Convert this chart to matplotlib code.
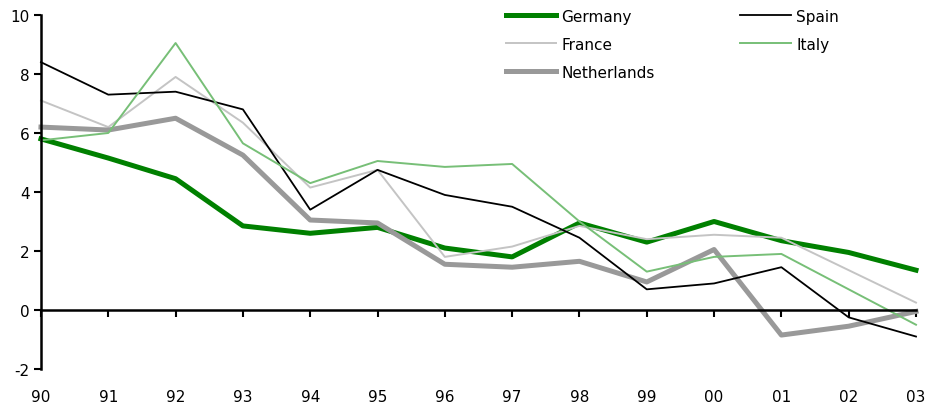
import numpy as np
import matplotlib
matplotlib.use("Agg")
import matplotlib.pyplot as plt

years = ['90', '91', '92', '93', '94', '95', '96', '97', '98', '99', '00', '01', '02', '03']
germany = [5.8, 5.15, 4.45, 2.85, 2.6, 2.8, 2.1, 1.8, 2.95, 2.3, 3.0, 2.35, 1.95, 1.35]
spain = [8.4, 7.3, 7.4, 6.8, 3.4, 4.75, 3.9, 3.5, 2.45, 0.7, 0.9, 1.45, -0.25, -0.9]
france = [7.1, 6.2, 7.9, 6.35, 4.15, 4.75, 1.8, 2.15, 2.85, 2.4, 2.55, 2.45, 1.35, 0.25]
italy = [5.75, 6.0, 9.05, 5.65, 4.3, 5.05, 4.85, 4.95, 3.0, 1.3, 1.8, 1.9, 0.7, -0.5]
netherlands = [6.2, 6.1, 6.5, 5.25, 3.05, 2.95, 1.55, 1.45, 1.65, 0.95, 2.05, -0.85, -0.55, -0.05]

plt.rcParams['font.family'] = ['DejaVu Sans']
plt.rcParams['font.size'] = 11
plt.rcParams['axes.unicode_minus'] = False

fig = plt.figure(figsize=(9.29, 4.10), dpi=100)
ax = fig.add_axes([0.0441, 0.0976, 0.9419, 0.8634])

x = np.arange(len(years))
lg, = ax.plot(x, germany, color='#008000', lw=3.6, label='Germany', clip_on=False)
lf, = ax.plot(x, france, color='#c4c4c4', lw=1.4, label='France', clip_on=False)
ln, = ax.plot(x, netherlands, color='#999999', lw=3.6, label='Netherlands', clip_on=False)
ls, = ax.plot(x, spain, color='black', lw=1.3, label='Spain', clip_on=False)
li, = ax.plot(x, italy, color='#77bf77', lw=1.4, label='Italy', clip_on=False)

ax.set_xlim(0, 13)
ax.set_ylim(-2, 10)
ax.set_yticks(np.arange(-2, 11, 2))
ax.set_xticks(x)
ax.set_xticklabels(years)

for s in ['top', 'right']:
    ax.spines[s].set_visible(False)
ax.spines['bottom'].set_position(('data', 0))
ax.spines['bottom'].set_linewidth(1.8)
ax.spines['left'].set_linewidth(1.8)
ax.tick_params(axis='x', direction='out', length=5, width=1.5, pad=52)
ax.tick_params(axis='y', direction='out', length=5, width=1.5, pad=3)

fig.legend(handles=[lg, lf, ln, ls, li], ncol=2, loc='upper left',
           bbox_to_anchor=(498 / 929, 0.995), frameon=False, borderpad=0,
           handlelength=3.3, handletextpad=0.35, columnspacing=5.6,
           labelspacing=0.85, fontsize=11)

fig.savefig('out.png', dpi=100)
